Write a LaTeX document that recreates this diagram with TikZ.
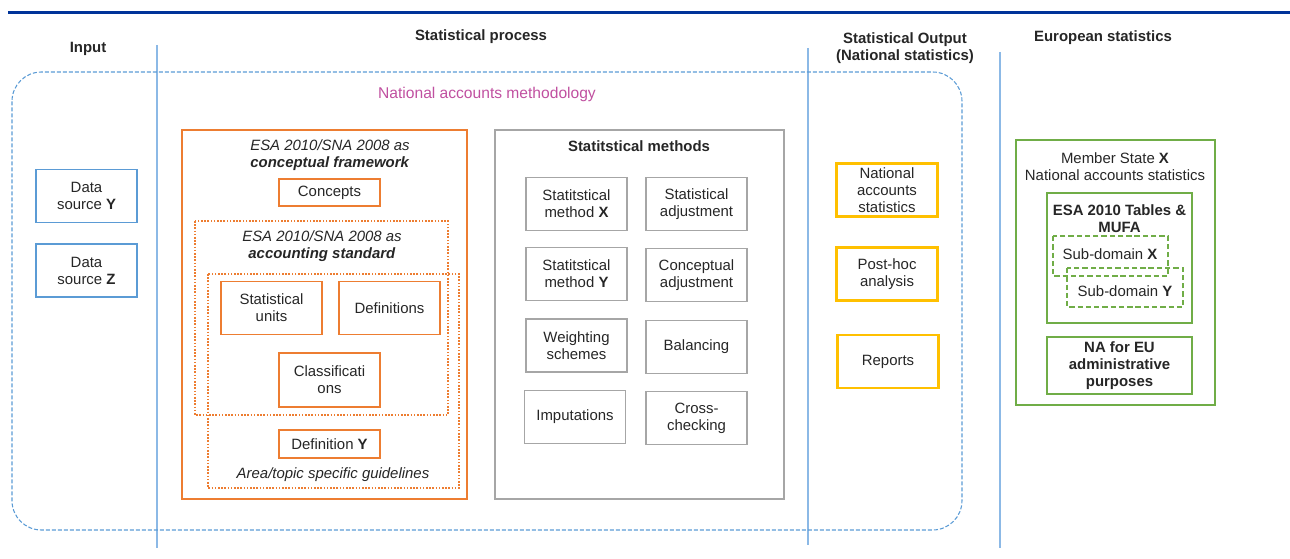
\documentclass[tikz,border=0pt]{standalone}
\usepackage{fontspec}
\setmainfont{Liberation Sans}

\definecolor{ruleblue}{RGB}{0,51,153}
\definecolor{lineblue}{RGB}{140,185,230}
\definecolor{srcblue}{RGB}{91,155,213}
\definecolor{naorange}{RGB}{237,125,49}
\definecolor{methgray}{RGB}{166,166,166}
\definecolor{outgold}{RGB}{255,192,0}
\definecolor{eugreen}{RGB}{112,173,71}
\definecolor{methpink}{RGB}{192,80,160}

\tikzset{
  txt/.style={font=\fontsize{11.2}{12.75}\selectfont, align=center, inner sep=1pt, text=black!85},
  head/.style={txt, font=\bfseries\fontsize{11.2}{12.75}\selectfont},
  cell/.style={txt, draw, minimum width=75.75pt, minimum height=39.75pt},
  srcbox/.style={cell, draw=srcblue, line width=1pt},
  orbox/.style={cell, draw=naorange, line width=1.2pt},
  mbox/.style={cell, draw=methgray, line width=0.8pt},
  outbox/.style={cell, draw=outgold, line width=1.6pt},
  sep/.style={lineblue, line width=1.5pt},
  dotbox/.style={naorange, line width=1.2pt, dash pattern=on 1.2pt off 1.2pt},
  subbox/.style={eugreen, line width=0.9pt, dash pattern=on 4pt off 2.2pt},
}

\begin{document}
\begin{tikzpicture}[x=0.75pt, y=-0.75pt]
  \useasboundingbox (0,0) rectangle (1290,559);

  \draw[ruleblue, line width=2.25pt] (8,13) -- (1290,13);

  \draw[sep] (157,45) -- (157,548);
  \draw[sep] (808,48) -- (808,545);
  \draw[sep] (1000,52) -- (1000,548);

  \node[head] (input) at (88,49) {Input};
  \node[head] (process) at (481,37) {Statistical process};
  \node[head] (output) at (905,48) {Statistical Output\\(National statistics)};
  \node[head] (euro) at (1103,38) {European statistics};

  \draw[srcblue, line width=0.8pt, dash pattern=on 3pt off 1.5pt, rounded corners=22pt]
    (12,72) rectangle (962,530);
  \node[txt, text=methpink, font=\fontsize{11.7}{13}\selectfont] (method) at (487,94)
    {National accounts methodology};

  \node[srcbox] (srcY) at (86.5,196) {Data\\source \textbf{Y}};
  \node[srcbox] (srcZ) at (86.5,270.5) {Data\\source \textbf{Z}};

  \draw[naorange, line width=1.2pt] (182,130) rectangle (467,499);
  \draw[dotbox] (195,221) rectangle (448,415);
  \draw[dotbox] (208,274) rectangle (459,488);
  \node[txt] (frame) at (330,155)
    {\textit{ESA 2010/SNA 2008 as}\\\textit{\textbf{conceptual framework}}};
  \node[orbox, minimum height=20.25pt] (concepts) at (329.5,192.5) {Concepts};
  \node[txt] (standard) at (322,246.5)
    {\textit{ESA 2010/SNA 2008 as}\\\textit{\textbf{accounting standard}}};
  \node[orbox] (units) at (271.5,308) {Statistical\\units};
  \node[orbox] (defs) at (389.5,308) {Definitions};
  \node[orbox, minimum height=40.5pt] (classes) at (329.5,380) {Classificati\\ons};
  \node[orbox, minimum height=21pt] (defY) at (329.5,444) {Definition \textbf{Y}};
  \node[txt] (guide) at (333,475) {\textit{Area/topic specific guidelines}};

  \draw[methgray, line width=0.8pt] (495,130) rectangle (784,499);
  \node[head] (methods) at (639,146) {Statitstical methods};
  \node[mbox] (methX) at (576.5,204) {Statitstical\\method \textbf{X}};
  \node[mbox] (statadj) at (696.5,204) {Statistical\\adjustment};
  \node[mbox] (methY) at (576.5,274) {Statitstical\\method \textbf{Y}};
  \node[mbox] (concadj) at (696.5,275) {Conceptual\\adjustment};
  \node[mbox] (weights) at (576.5,345.5) {Weighting\\schemes};
  \node[mbox] (balance) at (696.5,347) {Balancing};
  \node[mbox] (imput) at (575,417) {Imputations};
  \node[mbox] (cross) at (696.5,418) {Cross-\\checking};

  \node[outbox] (nastat) at (887,190) {National\\accounts\\statistics};
  \node[outbox] (posthoc) at (887,274) {Post-hoc\\analysis};
  \node[outbox] (reports) at (888,361.5) {Reports};

  \draw[eugreen, line width=0.9pt] (1016,140) rectangle (1215,405);
  \node[txt] (member) at (1115,167) {Member State \textbf{X}\\National accounts statistics};
  \draw[eugreen, line width=2pt] (1047,193) rectangle (1192,323);
  \node[head] (tables) at (1119.5,219) {ESA 2010 Tables \&\\MUFA};
  \draw[subbox] (1053,236) rectangle (1168,276);
  \draw[subbox] (1067,268) rectangle (1183,307);
  \node[txt] (subX) at (1110,254.5) {Sub-domain \textbf{X}};
  \node[txt] (subY) at (1125,291.5) {Sub-domain \textbf{Y}};
  \draw[eugreen, line width=2pt] (1047,337) rectangle (1192,394);
  \node[head] (admin) at (1119.5,366) {NA for EU\\administrative\\purposes};
\end{tikzpicture}
\end{document}
